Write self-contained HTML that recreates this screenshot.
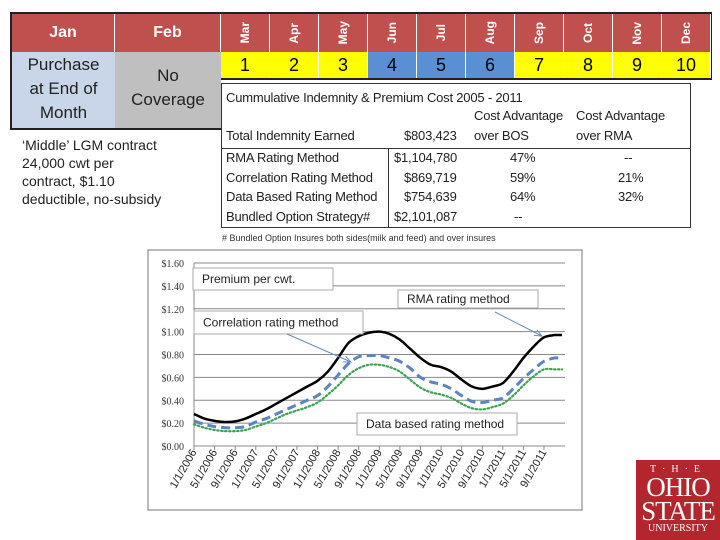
<!DOCTYPE html>
<html><head><meta charset="utf-8"><style>
body{margin:0;width:720px;height:540px;background:#fff;position:relative;overflow:hidden;font-family:"Liberation Sans",sans-serif}
.a{position:absolute;box-sizing:border-box}
.hd{background:#c0504d;color:#fff;font-weight:bold;display:flex;align-items:center;justify-content:center;border-right:1px solid #fff}
.mo{writing-mode:vertical-rl;transform:rotate(180deg);font-size:12px}
.num{display:flex;align-items:center;justify-content:center;font-size:18px;border-right:1px solid #fff}
.ct{font-size:13px;letter-spacing:-0.2px;color:#222;position:absolute;white-space:nowrap}
</style></head><body>
<div class="a" style="left:10px;top:12px;width:702px;height:118px;background:#222"></div>
<div class="a hd" style="left:12px;top:14px;width:103px;height:38px;font-size:16px">Jan</div>
<div class="a hd" style="left:115px;top:14px;width:106px;height:38px;font-size:16px">Feb</div>
<div id="months"></div>
<div class="a" style="left:12px;top:52px;width:103px;height:76px;background:#c9d5e8;font-size:17px;color:#222;text-align:center;line-height:24px;padding-top:1px">Purchase<br>at End of<br>Month</div>
<div class="a" style="left:115px;top:52px;width:106px;height:76px;background:#bfbfbf;font-size:17px;color:#222;text-align:center;line-height:24px;padding-top:12px">No<br>Coverage</div>
<div class="a" style="left:221px;top:80px;width:491px;height:50px;background:#fff"></div>

<div class="a" style="left:221px;top:83px;width:470px;height:145px;border:1px solid #333;background:#fff">
<div class="a" style="left:0;top:64px;width:468px;border-top:1px solid #333"></div>
<div class="a" style="left:166px;top:64px;height:80px;border-left:1px solid #333"></div>
<span class="ct" style="left:4px;top:6px">Cummulative Indemnity &amp; Premium Cost 2005 - 2011</span>
<span class="ct" style="left:252px;top:24px">Cost Advantage</span><span class="ct" style="left:354px;top:24px">Cost Advantage</span>
<span class="ct" style="left:4px;top:44px">Total Indemnity Earned</span><span class="ct" style="left:182px;top:44px">$803,423</span><span class="ct" style="left:252px;top:44px">over BOS</span><span class="ct" style="left:354px;top:44px">over RMA</span>
<span class="ct" style="left:4px;top:66px">RMA Rating Method</span><span class="ct" style="left:172px;top:66px">$1,104,780</span><span class="ct" style="left:288px;top:66px">47%</span><span class="ct" style="left:402px;top:66px">--</span>
<span class="ct" style="left:4px;top:86px">Correlation Rating Method</span><span class="ct" style="left:182px;top:86px">$869,719</span><span class="ct" style="left:288px;top:86px">59%</span><span class="ct" style="left:396px;top:86px">21%</span>
<span class="ct" style="left:4px;top:105px">Data Based Rating Method</span><span class="ct" style="left:182px;top:105px">$754,639</span><span class="ct" style="left:288px;top:105px">64%</span><span class="ct" style="left:396px;top:105px">32%</span>
<span class="ct" style="left:4px;top:125px">Bundled Option Strategy#</span><span class="ct" style="left:172px;top:125px">$2,101,087</span><span class="ct" style="left:292px;top:125px">--</span>
</div>
<div class="a" style="left:222px;top:233px;font-size:9px;color:#333;white-space:nowrap"># Bundled Option Insures both sides(milk and feed) and over insures</div>

<div class="a" style="left:22px;top:136px;width:190px;font-size:14px;line-height:18px;color:#222;white-space:nowrap">‘Middle’ LGM contract<br>24,000 cwt per<br>contract, $1.10<br>deductible, no-subsidy</div>

<svg class="a" id="chart" style="left:0;top:0" width="720" height="540"></svg>

<div class="a" style="left:636px;top:460px;width:84px;height:80px;background:#b3262d;color:#fff;font-family:'Liberation Serif',serif;text-align:center">
<div style="font-size:10px;letter-spacing:6px;margin-top:4px">T·H·E</div>
<div style="font-size:27px;line-height:24px;letter-spacing:-1px">OHIO</div>
<div style="font-size:27px;line-height:24px;letter-spacing:-1px">STATE</div>
<div style="font-size:10px;line-height:12px">UNIVERSITY</div>
</div>

<script>
const monthNames=["Mar","Apr","May","Jun","Jul","Aug","Sep","Oct","Nov","Dec"];
const monthNums=["1","2","3","4","5","6","7","8","9","10"];
const monthColors=["#ffff00","#ffff00","#ffff00","#5b8fd4","#5b8fd4","#5b8fd4","#ffff00","#ffff00","#ffff00","#ffff00"];
const mc=document.getElementById('months');
monthNames.forEach((m,i)=>{
  const x=221+i*49;
  const h=document.createElement('div');
  h.className='a hd';h.style.cssText=`left:${x}px;top:14px;width:49px;height:38px`;
  h.innerHTML=`<span class="mo">${m}</span>`;
  
  
  mc.appendChild(h);
  const n=document.createElement('div');
  n.className='a num';n.style.cssText=`left:${x}px;top:52px;width:49px;height:26px;background:${monthColors[i]}`;
  n.textContent=monthNums[i];
  
  
  mc.appendChild(n);
});

// chart data
const monthIdx=[0,2,4,6,8,10,12,14,16,18,20,22,24,26,28,30,32,34,36,38,40,42,44,46,48,50,52,54,56,58,60,62,64,66,68,70];
const rmaVals=[0.28,0.24,0.22,0.21,0.215,0.24,0.28,0.32,0.37,0.42,0.47,0.52,0.57,0.65,0.77,0.90,0.96,0.99,1.00,0.98,0.93,0.85,0.77,0.71,0.69,0.65,0.58,0.52,0.50,0.52,0.55,0.65,0.77,0.87,0.95,0.97];
const corrVals=[0.22,0.19,0.17,0.16,0.16,0.17,0.21,0.24,0.28,0.32,0.36,0.40,0.44,0.52,0.62,0.72,0.78,0.79,0.79,0.77,0.74,0.68,0.60,0.56,0.54,0.50,0.44,0.39,0.38,0.40,0.42,0.50,0.59,0.67,0.74,0.77];
const dataVals=[0.19,0.16,0.14,0.13,0.13,0.14,0.17,0.20,0.24,0.28,0.31,0.34,0.38,0.45,0.53,0.62,0.68,0.71,0.71,0.69,0.65,0.58,0.51,0.47,0.45,0.42,0.37,0.33,0.32,0.34,0.37,0.44,0.53,0.61,0.67,0.67];
const yTicks=[0,0.2,0.4,0.6,0.8,1.0,1.2,1.4,1.6];
const xTickMonths=[0,4,8,12,16,20,24,28,32,36,40,44,48,52,56,60,64,68];
const xTickLabels=["1/1/2006","5/1/2006","9/1/2006","1/1/2007","5/1/2007","9/1/2007","1/1/2008","5/1/2008","9/1/2008","1/1/2009","5/1/2009","9/1/2009","1/1/2010","5/1/2010","9/1/2010","1/1/2011","5/1/2011","9/1/2011"];

const NS='http://www.w3.org/2000/svg';
const svg=document.getElementById('chart');
const X0=194,X1=565;
const xs=m=>194+m*(544-194)/68;
const ys=v=>446-v*(446-263)/1.6;
function el(t,a,p){const e=document.createElementNS(NS,t);for(const k in a)e.setAttribute(k,a[k]);(p||svg).appendChild(e);return e;}

const frame=el('rect',{x:148,y:250,width:434,height:260,fill:'#fff',stroke:'#8c8c8c','stroke-width':1.2});


yTicks.forEach(v=>{
  if(v>0){const g=el('line',{x1:X0,x2:X1,y1:ys(v),y2:ys(v),stroke:'#888','stroke-width':1});
  
  }
  const t=el('text',{x:184,y:ys(v)+4,'text-anchor':'end','font-size':10,'font-family':'Liberation Serif, serif',fill:'#333'});
  t.textContent='$'+v.toFixed(2);
  
  
});
const ax=el('line',{x1:X0,x2:X0,y1:263,y2:446,stroke:'#888'});


const bx=el('line',{x1:X0,x2:X1,y1:446,y2:446,stroke:'#888'});


xTickMonths.forEach((m,i)=>{
  const x=xs(m);
  el('line',{x1:x,x2:x,y1:446,y2:450,stroke:'#888'});
  const t=el('text',{x:x+3,y:452,'text-anchor':'end','font-size':11,fill:'#222',transform:`rotate(-60 ${x+3} 452)`});
  t.textContent=xTickLabels[i];
  
  
});
function path(vals){
  const p=monthIdx.map((m,i)=>[xs(m),ys(vals[i])]);
  let d=`M${p[0][0]},${p[0][1]}`;
  for(let i=0;i<p.length-1;i++){
    const p0=p[i-1]||p[i],p1=p[i],p2=p[i+1],p3=p[i+2]||p2;
    d+=` C${p1[0]+(p2[0]-p0[0])/6},${p1[1]+(p2[1]-p0[1])/6} ${p2[0]-(p3[0]-p1[0])/6},${p2[1]-(p3[1]-p1[1])/6} ${p2[0]},${p2[1]}`;
  }
  d+=` L${xs(71.5)},${p[p.length-1][1]}`;
  return d;
}
const l1=el('path',{d:path(dataVals),fill:'none',stroke:'#3aa354','stroke-width':2.2,'stroke-dasharray':'1.5 2.5','stroke-linecap':'round'});


const l2=el('path',{d:path(corrVals),fill:'none',stroke:'#5b84c0','stroke-width':3,'stroke-dasharray':'9 5'});


const l3=el('path',{d:path(rmaVals),fill:'none',stroke:'#000','stroke-width':2.5});



function box(x,y,w,h,txt,name){
  const r=el('rect',{x,y,width:w,height:h,fill:'#fff',stroke:'#aaa'});
  
  
  const t=el('text',{x:x+9,y:y+h/2+4,'font-size':12,fill:'#222'});
  t.textContent=txt;
  
  
}
box(193,268,140,22,'Premium per cwt.','premium-label-box');
box(398,290,140,18,'RMA rating method','rma-label-box');
box(194,311,169,23,'Correlation rating method','correlation-label-box');
box(357,413,160,22,'Data based rating method','data-based-label-box');
[[287,334,351,362],[495,312,542,336]].forEach(a=>{
  const l=el('line',{x1:a[0],y1:a[1],x2:a[2],y2:a[3],stroke:'#6a8cba','stroke-width':1});
  
  
  const ang=Math.atan2(a[3]-a[1],a[2]-a[0]);
  const p=(d,o)=>[a[2]-8*Math.cos(ang+o),a[3]-8*Math.sin(ang+o)];
  const h=el('polyline',{points:`${p(0,0.4)} ${a[2]},${a[3]} ${p(0,-0.4)}`,fill:'none',stroke:'#6a8cba'});
  
  
});
</script>
</body></html>
